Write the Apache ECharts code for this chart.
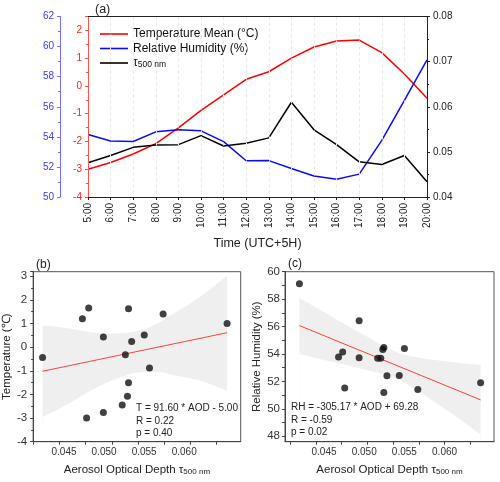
<!DOCTYPE html>
<html><head><meta charset="utf-8">
<script src="https://cdn.jsdelivr.net/npm/echarts@6/dist/echarts.min.js"></script>
<style>html,body{margin:0;padding:0;background:#fff}#c{width:500px;height:482px}</style>
</head><body><div id="c"></div>
<script>
// ---- data ----
const times = ['5:00','6:00','7:00','8:00','9:00','10:00','11:00','12:00','13:00','14:00','15:00','16:00','17:00','18:00','19:00','20:00'];
const tempMean = [-3.00,-2.76,-2.45,-2.08,-1.51,-0.88,-0.32,0.24,0.51,1.00,1.40,1.62,1.65,1.20,0.43,-0.44];
const relHum = [54.15,53.72,53.69,54.33,54.47,54.40,53.68,52.41,52.42,51.90,51.40,51.18,51.52,53.77,56.42,59.12];
const aod500 = [0.0476,0.0492,0.0510,0.0515,0.0516,0.0536,0.0513,0.0519,0.0531,0.0610,0.0549,0.0516,0.0478,0.0472,0.0492,0.0434];

const tempTicks = [-4,-3,-2,-1,0,1,2];
const rhTicks = [50,52,54,56,58,60,62];
const aodScatterTicks = [0.045,0.050,0.055,0.060];
const aodMinorTicks = [0.0425,0.045,0.0475,0.050,0.0525,0.055,0.0575,0.060];
const scatterTempTicks = [-4,-3,-2,-1,0,1,2,3];
const scatterRhTicks = [48,50,52,54,56,58,60];
const scatterRhMinor = [48,49,50,51,52,53,54,55,56,57,58,59,60];

// regression lines (end points)
const regX = [0.0434, 0.0610];
const regTemp = [-1.02, 0.61];
const regRH = [56.07, 50.65];
// confidence bands (edges)
const bandXB = [0.0434,0.04546,0.04736,0.04926,0.05116,0.05275,0.05434,0.05592,0.05751,0.0591,0.0610];
const bandUpB = [0.91,0.82,0.68,0.58,0.60,0.72,1.00,1.43,1.86,2.35,3.03];
const bandLoB = [-2.96,-2.49,-2.00,-1.56,-1.23,-1.06,-1.04,-1.19,-1.32,-1.52,-1.85];
const bandXC = [0.0434,0.0451,0.0474,0.0500,0.0522,0.0539,0.0571,0.0610];
const bandUpC = [58.08,57.35,56.35,55.25,54.35,53.90,53.50,53.20];
const bandLoC = [54.00,53.69,53.29,52.81,52.35,51.76,50.22,48.12];

const annB = ['T = 91.60 * AOD - 5.00','R = 0.22','p = 0.40'];
const annC = ['RH = -305.17 * AOD + 69.28','R = -0.59','p = 0.02'];

const NAME_T = 'Temperature Mean (°C)';
const NAME_RH = 'Relative Humidity (%)';
const NAME_TAU = 'τ500 nm';

// ---- chart ----
const FONT = "'Liberation Sans', Arial, Helvetica, sans-serif";
const chart = echarts.init(document.getElementById('c'), null, {renderer: 'canvas'});
const zip = (a, b) => a.map((v, i) => [v, b[i]]);

const RED = '#ff0000', BLUE = '#0a0aff';
const LINE_ICON = 'path://M0,0 L28,0 L28,1.6 L0,1.6 Z';

const option = {
  backgroundColor: '#fff',
  animation: false,
  textStyle: {fontFamily: FONT},
  grid: [
    {left: 88, width: 339, top: 16.5, height: 180.5},
    {left: 32.3, width: 208.4, top: 271.7, height: 170, show: true, borderColor: '#555', borderWidth: 1, backgroundColor: 'transparent'},
    {left: 285, width: 209, top: 271.7, height: 170, show: true, borderColor: '#555', borderWidth: 1, backgroundColor: 'transparent'}
  ],
  legend: {
    orient: 'vertical', left: 95, top: 23, itemWidth: 28, itemHeight: 14, itemGap: 2.5,
    icon: LINE_ICON, symbolKeepAspect: true,
    data: [NAME_T, NAME_RH, NAME_TAU],
    formatter: n => n === NAME_TAU ? '{t|τ}{s|500 nm}' : n,
    textStyle: {fontFamily: FONT, fontSize: 12, color: '#111',
      rich: {t: {fontFamily: FONT, fontSize: 12, color: '#111', verticalAlign: 'top', lineHeight: 12},
             s: {fontFamily: FONT, fontSize: 8.5, color: '#111', verticalAlign: 'bottom', lineHeight: 9}}}
  },
  xAxis: [
    {type: 'category', gridIndex: 0, data: times, boundaryGap: false, z: 10,
     axisLine: {onZero: false, lineStyle: {color: '#222', width: 1}},
     axisTick: {show: true, length: 3, interval: 0, lineStyle: {color: '#222'}},
     axisLabel: {rotate: 90, interval: 0, fontSize: 10, color: '#222', margin: 6, fontFamily: FONT},
     splitLine: {show: true, interval: 0, lineStyle: {color: '#e8e8e8', type: [3, 3], width: 1}},
     name: 'Time (UTC+5H)', nameLocation: 'middle', nameGap: 40,
     nameTextStyle: {fontSize: 12.5, color: '#222', fontFamily: FONT}},
    {type: 'category', gridIndex: 0, data: times, boundaryGap: false, position: 'top', z: 10,
     axisLine: {onZero: false, lineStyle: {color: '#222'}}, axisTick: {show: false}, axisLabel: {show: false}, splitLine: {show: false}},
    // (b) data axis
    {type: 'value', gridIndex: 1, min: 0.0425, max: 0.0623, position: 'bottom', z: 10,
     axisLine: {onZero: false, lineStyle: {color: '#444'}},
     axisTick: {show: true, length: 3, customValues: aodMinorTicks, lineStyle: {color: '#444'}},
     axisLabel: {show: false}, splitLine: {show: false}},
    // (b) label axis
    {type: 'value', gridIndex: 1, min: 0.041148, max: 0.067046, position: 'bottom', z: 10,
     axisLine: {show: false}, axisTick: {show: false}, splitLine: {show: false},
     axisLabel: {customValues: aodScatterTicks, formatter: v => v.toFixed(3), fontSize: 10, color: '#333', margin: 6, fontFamily: FONT},
     name: 'Aerosol Optical Depth τ{s|500 nm}', nameLocation: 'middle', nameGap: 22,
     nameTextStyle: {fontSize: 11.5, color: '#222', fontFamily: FONT,
       rich: {s: {fontSize: 8, color: '#222', fontFamily: FONT, verticalAlign: 'bottom', lineHeight: 8}}}},
    // (c) data axis
    {type: 'value', gridIndex: 2, min: 0.0420, max: 0.0623, position: 'bottom', z: 10,
     axisLine: {onZero: false, lineStyle: {color: '#444'}},
     axisTick: {show: true, length: 3, customValues: aodMinorTicks, lineStyle: {color: '#444'}},
     axisLabel: {show: false}, splitLine: {show: false}},
    // (c) label axis
    {type: 'value', gridIndex: 2, min: 0.04015, max: 0.06615, position: 'bottom', z: 10,
     axisLine: {show: false}, axisTick: {show: false}, splitLine: {show: false},
     axisLabel: {customValues: aodScatterTicks, formatter: v => v.toFixed(3), fontSize: 10, color: '#333', margin: 6, fontFamily: FONT},
     name: 'Aerosol Optical Depth τ{s|500 nm}', nameLocation: 'middle', nameGap: 22,
     nameTextStyle: {fontSize: 11.5, color: '#222', fontFamily: FONT,
       rich: {s: {fontSize: 8, color: '#222', fontFamily: FONT, verticalAlign: 'bottom', lineHeight: 8}}}}
  ],
  yAxis: [
    {type: 'value', gridIndex: 0, min: -4, max: 2.5, interval: 1, position: 'left', z: 10,
     axisLine: {show: true, onZero: false, lineStyle: {color: '#ff5050'}},
     axisTick: {show: true, length: 3, lineStyle: {color: '#ff5050'}},
     minorTick: {show: true, splitNumber: 2, length: 2, lineStyle: {color: '#ff5050'}},
     axisLabel: {color: '#ff2020', fontSize: 10, margin: 6, fontFamily: FONT,
       formatter: v => tempTicks.includes(v) ? String(v) : ''},
     splitLine: {show: false}},
    {type: 'value', gridIndex: 0, min: 50, max: 62, interval: 2, position: 'left', offset: 28, z: 10,
     axisLine: {show: true, onZero: false, lineStyle: {color: '#7070ff'}},
     axisTick: {show: true, length: 3, lineStyle: {color: '#7070ff'}},
     minorTick: {show: true, splitNumber: 2, length: 2, lineStyle: {color: '#7070ff'}},
     axisLabel: {color: '#3a3aff', fontSize: 10, margin: 6, fontFamily: FONT,
       formatter: v => rhTicks.includes(v) ? String(v) : ''},
     splitLine: {show: false}},
    {type: 'value', gridIndex: 0, min: 0.04, max: 0.08, interval: 0.01, position: 'right', z: 10,
     axisLine: {show: true, onZero: false, lineStyle: {color: '#222'}},
     axisTick: {show: true, length: 3, lineStyle: {color: '#222'}},
     minorTick: {show: true, splitNumber: 2, length: 2, lineStyle: {color: '#222'}},
     axisLabel: {color: '#222', fontSize: 10, margin: 6, fontFamily: FONT,
       formatter: v => v.toFixed(2)},
     splitLine: {show: false}},
    // (b)
    {type: 'value', gridIndex: 1, min: -4, max: 3.19, interval: 1, z: 10,
     axisLine: {show: true, onZero: false, lineStyle: {color: '#444'}},
     axisTick: {show: true, length: 3, lineStyle: {color: '#444'}},
     minorTick: {show: true, splitNumber: 2, length: 2, lineStyle: {color: '#444'}},
     axisLabel: {color: '#333', fontSize: 11.5, margin: 6, fontFamily: FONT,
       formatter: v => scatterTempTicks.includes(v) ? String(v) : ''},
     splitLine: {show: false},
     name: 'Temperature (℃)', nameLocation: 'middle', nameGap: 17,
     nameTextStyle: {fontSize: 11.5, color: '#222', fontFamily: FONT}},
    // (c)
    {type: 'value', gridIndex: 2, min: 47.6, max: 60, z: 10,
     axisLine: {show: true, onZero: false, lineStyle: {color: '#444'}},
     axisTick: {show: true, length: 3, customValues: scatterRhMinor, lineStyle: {color: '#444'}},
     axisLabel: {color: '#333', fontSize: 11.5, margin: 5, fontFamily: FONT, customValues: scatterRhTicks},
     splitLine: {show: false},
     name: 'Relative Humidity (%)', nameLocation: 'middle', nameGap: 20,
     nameTextStyle: {fontSize: 11.5, color: '#222', fontFamily: FONT}}
  ],
  series: [
    {name: NAME_T, type: 'line', xAxisIndex: 0, yAxisIndex: 0, data: tempMean, symbol: 'none',
     lineStyle: {color: RED, width: 1.5}, itemStyle: {color: RED}, z: 3},
    {name: NAME_RH, type: 'line', xAxisIndex: 0, yAxisIndex: 1, data: relHum, symbol: 'none',
     lineStyle: {color: BLUE, width: 1.5}, itemStyle: {color: BLUE}, z: 3},
    {name: NAME_TAU, type: 'line', xAxisIndex: 0, yAxisIndex: 2, data: aod500, symbol: 'none',
     lineStyle: {color: '#000', width: 1.5}, itemStyle: {color: '#000'}, z: 3},

    // (b) band
    {type: 'line', xAxisIndex: 2, yAxisIndex: 3, data: zip(bandXB, bandUpB), symbol: 'none', smooth: true,
     lineStyle: {width: 0}, areaStyle: {color: '#efefef', opacity: 1, origin: 'start'}, silent: true, z: 1},
    {type: 'line', xAxisIndex: 2, yAxisIndex: 3, data: zip(bandXB, bandLoB), symbol: 'none', smooth: true,
     lineStyle: {width: 0}, areaStyle: {color: '#ffffff', opacity: 1, origin: 'start'}, silent: true, z: 1},
    {type: 'line', xAxisIndex: 2, yAxisIndex: 3, data: zip(regX, regTemp), symbol: 'none',
     lineStyle: {color: '#ff4040', width: 1}, z: 3},
    {type: 'scatter', xAxisIndex: 2, yAxisIndex: 3, data: zip(aod500, tempMean), symbolSize: 7,
     itemStyle: {color: '#111'}, z: 4},

    // (c) band
    {type: 'line', xAxisIndex: 4, yAxisIndex: 4, data: zip(bandXC, bandUpC), symbol: 'none', smooth: true,
     lineStyle: {width: 0}, areaStyle: {color: '#efefef', opacity: 1, origin: 'start'}, silent: true, z: 1},
    {type: 'line', xAxisIndex: 4, yAxisIndex: 4, data: zip(bandXC, bandLoC), symbol: 'none', smooth: true,
     lineStyle: {width: 0}, areaStyle: {color: '#ffffff', opacity: 1, origin: 'start'}, silent: true, z: 1},
    {type: 'line', xAxisIndex: 4, yAxisIndex: 4, data: zip(regX, regRH), symbol: 'none',
     lineStyle: {color: '#ff4040', width: 1}, z: 3},
    {type: 'scatter', xAxisIndex: 4, yAxisIndex: 4, data: zip(aod500, relHum), symbolSize: 7,
     itemStyle: {color: '#111'}, z: 4}
  ],
  graphic: [
    {type: 'text', x: 95, y: 3, style: {text: '(a)', font: '12.5px ' + FONT, fill: '#222'}},
    {type: 'text', x: 36, y: 259, style: {text: '(b)', font: '12px ' + FONT, fill: '#222'}},
    {type: 'text', x: 288, y: 258, style: {text: '(c)', font: '12px ' + FONT, fill: '#222'}},
    {type: 'text', x: 136, y: 402, z: 20, style: {text: annB.join('\n'), font: '10px ' + FONT, lineHeight: 12.5, fill: '#222'}},
    {type: 'text', x: 291, y: 401, z: 20, style: {text: annC.join('\n'), font: '10px ' + FONT, lineHeight: 12.5, fill: '#222'}}
  ]
};
chart.setOption(option);
</script></body></html>
